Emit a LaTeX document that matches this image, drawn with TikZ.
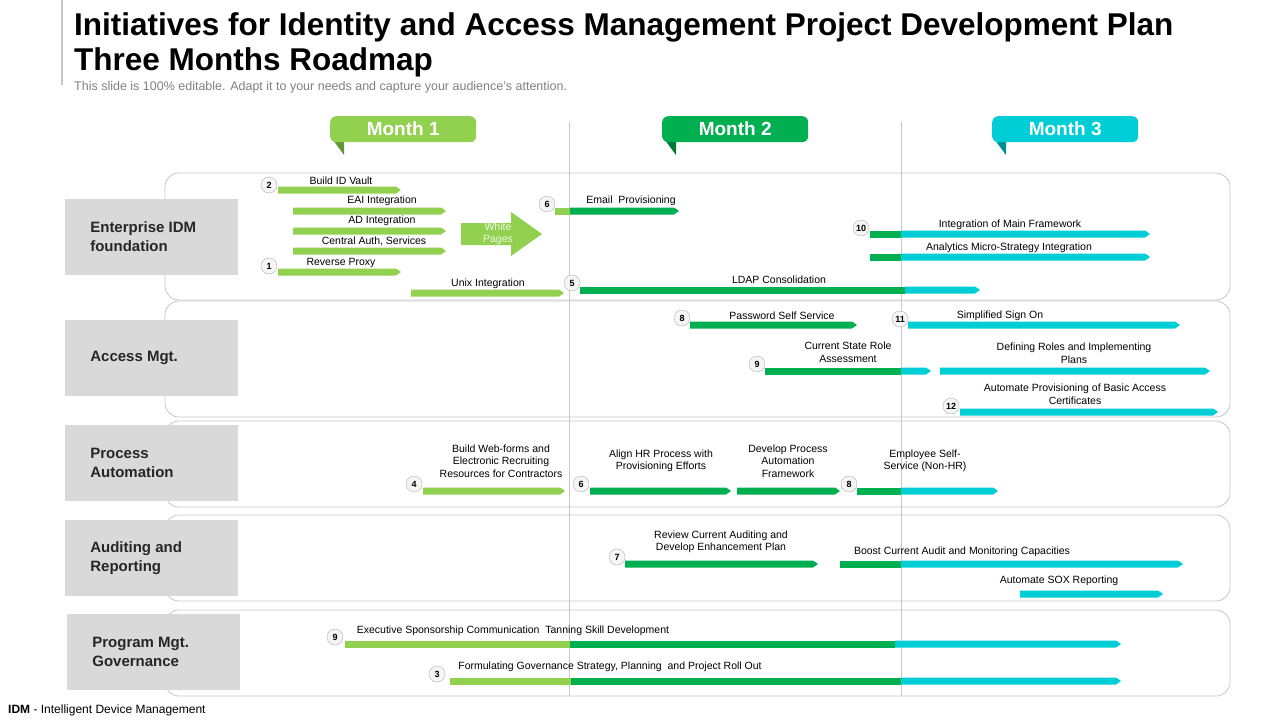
\documentclass[tikz,border=0pt]{standalone}
\usepackage{fontspec}
\setmainfont{Liberation Sans}
\usetikzlibrary{positioning,calc}
\definecolor{lgreen}{RGB}{146,208,80}
\definecolor{dgreen}{RGB}{0,176,80}
\definecolor{cyanbar}{RGB}{0,206,214}
\definecolor{rowgrey}{RGB}{217,217,217}
\definecolor{linegrey}{RGB}{200,200,200}
\tikzset{
  lbl/.style={font=\fontsize{10.5}{12.5}\selectfont, align=center, inner sep=0pt},
  num/.style={circle, draw=gray!60, fill=gray!8, minimum size=16pt, inner sep=0pt, font=\fontsize{9}{10}\selectfont\bfseries},
  rowframe/.style={draw=linegrey, rounded corners=14pt, line width=0.8pt},
  rowhead/.style={fill=rowgrey, minimum width=173pt, minimum height=76pt, inner sep=0pt},
  rowtext/.style={font=\fontsize{15}{19}\selectfont\bfseries, align=left, anchor=west, text=black!85},
  monthtab/.style={rounded corners=6pt, minimum width=146pt, minimum height=26pt, font=\fontsize{19}{22}\selectfont\bfseries, text=white}
}
% plain segment and pointed segment of a bar
\newcommand{\seg}[4]{\fill[#4] (#1,#3-3.5) rectangle (#2,#3+3.5);}
\newcommand{\tipseg}[4]{\fill[#4] (#1,#3-3.5) -- (#2-5,#3-3.5) -- (#2,#3) -- (#2-5,#3+3.5) -- (#1,#3+3.5) -- cycle;}
\begin{document}
\begin{tikzpicture}[x=1pt,y=-1pt]
  \useasboundingbox (0,0) rectangle (1280,720);
  % title
  \draw[linegrey, line width=1.5pt] (62,0) -- (62,85);
  \node[anchor=west, inner sep=0pt, font=\fontsize{31.5}{35}\selectfont\bfseries, align=left] (title) at (74,45)
    {Initiatives for Identity and Access Management Project Development Plan\\Three Months Roadmap};
  \node[anchor=west, inner sep=0pt, font=\fontsize{12.5}{14}\selectfont, text=gray] (sub) at (74,87)
    {This slide is 100\% editable. Adapt it to your needs and capture your audience's attention.};
  \node[anchor=west, inner sep=0pt, font=\fontsize{12}{14}\selectfont] (foot) at (8,710)
    {\textbf{IDM} - Intelligent Device Management};

  % month separators
  \draw[linegrey, line width=0.8pt] (569,122) -- (569,696);
  \draw[linegrey, line width=0.8pt] (901,122) -- (901,696);

  % month tabs
  \foreach \mx/\mc/\mn in {330/lgreen/1, 662/dgreen/2, 992/cyanbar/3}{
    \fill[\mc!70!black] (\mx,136) -- (\mx+14,136) -- (\mx+14,155) -- cycle;
    \node[monthtab, fill=\mc, anchor=north west] (month\mn) at (\mx,116) {Month \mn};
  }

  % rows
  \draw[rowframe, fill=white] (165,173) rectangle (1230,300);
  \draw[rowframe, fill=white] (165,301) rectangle (1230,417);
  \draw[rowframe, fill=white] (165,421) rectangle (1230,507);
  \draw[rowframe, fill=white] (165,515) rectangle (1230,601);
  \draw[rowframe, fill=white] (165,610) rectangle (1230,696);
  \draw[linegrey, line width=0.8pt] (569,173) -- (569,696);
  \draw[linegrey, line width=0.8pt] (901,173) -- (901,696);
  \node[rowhead] (head1) at (151.5,237) {};
  \node[rowhead] (head2) at (151.5,358) {};
  \node[rowhead] (head3) at (151.5,463) {};
  \node[rowhead] (head4) at (151.5,558) {};
  \node[rowhead] (head5) at (153.5,652) {};
  \node[rowtext] at ([xshift=22pt]head1.west) {Enterprise IDM\\foundation};
  \node[rowtext] at ([xshift=22pt]head2.west) {Access Mgt.};
  \node[rowtext] at ([xshift=22pt]head3.west) {Process\\Automation};
  \node[rowtext] at ([xshift=22pt]head4.west) {Auditing and\\Reporting};
  \node[rowtext] at ([xshift=22pt]head5.west) {Program Mgt.\\Governance};

  % row 1
  \tipseg{278}{401}{190}{lgreen}
  \tipseg{293}{446}{211}{lgreen}
  \tipseg{293}{446}{231}{lgreen}
  \tipseg{293}{446}{251}{lgreen}
  \tipseg{278}{401}{272}{lgreen}
  \tipseg{411}{564}{293}{lgreen}
  \node[lbl] at (341,181) {Build ID Vault};
  \node[lbl] at (382,201) {EAI Integration};
  \node[lbl] at (382,221) {AD Integration};
  \node[lbl] at (374,241) {Central Auth, Services};
  \node[lbl] at (341,263) {Reverse Proxy};
  \node[lbl] at (488,284) {Unix Integration};
  \node[num] (n2) at (269,185) {2};
  \node[num] (n1) at (269,266) {1};
  \fill[lgreen] (461,223) -- (511,223) -- (511,212) -- (542,234) -- (511,256) -- (511,245) -- (461,245) -- cycle;
  \node[lbl, text=white!85!lgreen] at (498,234) {White\\Pages};
  \seg{555}{570}{211}{lgreen}
  \tipseg{570}{679}{211}{dgreen}
  \node[lbl] at (631,201) {Email\ \ Provisioning};
  \node[num] (n6a) at (547,204) {6};
  \seg{580}{905}{290}{dgreen}
  \tipseg{905}{980}{290}{cyanbar}
  \node[lbl] at (779,280) {LDAP Consolidation};
  \node[num] (n5) at (572,283) {5};
  \seg{870}{901}{234}{dgreen}
  \tipseg{901}{1150}{234}{cyanbar}
  \node[lbl] at (1010,225) {Integration of Main Framework};
  \node[num] (n10) at (861,228) {10};
  \seg{870}{901}{257}{dgreen}
  \tipseg{901}{1150}{257}{cyanbar}
  \node[lbl] at (1009,248) {Analytics Micro-Strategy Integration};

  % row 2
  \tipseg{690}{857}{325}{dgreen}
  \node[lbl] at (782,316) {Password Self Service};
  \node[num] (n8a) at (682,318) {8};
  \tipseg{908}{1180}{325}{cyanbar}
  \node[lbl] at (1000,316) {Simplified Sign On};
  \node[num] (n11) at (900,319) {11};
  \seg{765}{901}{371}{dgreen}
  \tipseg{901}{931}{371}{cyanbar}
  \node[lbl] at (848,352) {Current State Role\\Assessment};
  \node[num] (n9a) at (757,364) {9};
  \tipseg{940}{1210}{371}{cyanbar}
  \node[lbl] at (1074,353) {Defining Roles and Implementing\\Plans};
  \tipseg{960}{1218}{412}{cyanbar}
  \node[lbl] at (1075,394) {Automate Provisioning of Basic Access\\Certificates};
  \node[num] (n12) at (951,406) {12};

  % row 3
  \tipseg{423}{565}{491}{lgreen}
  \node[lbl] at (501,461) {Build Web-forms and\\Electronic Recruiting\\Resources for Contractors};
  \node[num] (n4) at (414,484) {4};
  \tipseg{590}{731}{491}{dgreen}
  \node[lbl] at (661,461) {Align HR Process with\\Provisioning Efforts};
  \node[num] (n6b) at (581,484) {6};
  \tipseg{737}{840}{491}{dgreen}
  \node[lbl] at (788,461) {Develop Process\\Automation\\Framework};
  \seg{857}{901}{491}{dgreen}
  \tipseg{901}{998}{491}{cyanbar}
  \node[lbl] at (925,461) {Employee Self-\\Service (Non-HR)};
  \node[num] (n8b) at (849,484) {8};

  % row 4
  \tipseg{625}{818}{564}{dgreen}
  \node[lbl] at (721,542) {Review Current Auditing and\\Develop Enhancement Plan};
  \node[num] (n7) at (617,557) {7};
  \seg{840}{901}{564}{dgreen}
  \tipseg{901}{1183}{564}{cyanbar}
  \node[lbl] at (962,552) {Boost Current Audit and Monitoring Capacities};
  \tipseg{1020}{1163}{594}{cyanbar}
  \node[lbl] at (1059,581) {Automate SOX Reporting};

  % row 5
  \seg{345}{570}{644}{lgreen}
  \seg{570}{895}{644}{dgreen}
  \tipseg{895}{1121}{644}{cyanbar}
  \node[lbl] at (513,631) {Executive Sponsorship Communication\ \ Tanning Skill Development};
  \node[num] (n9b) at (335,637) {9};
  \seg{450}{571}{681}{lgreen}
  \seg{571}{901}{681}{dgreen}
  \tipseg{901}{1121}{681}{cyanbar}
  \node[lbl] at (610,667) {Formulating Governance Strategy, Planning\ \ and Project Roll Out};
  \node[num] (n3) at (437,674) {3};
\end{tikzpicture}
\end{document}
